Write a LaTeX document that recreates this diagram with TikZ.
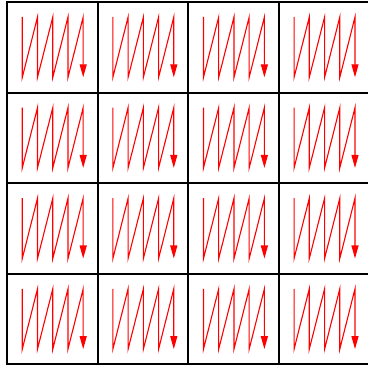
\documentclass[tikz,border=0pt]{standalone}
\usetikzlibrary{arrows.meta}
\begin{document}
\begin{tikzpicture}[x=1pt,y=-1pt,
  gridline/.style={black,line width=2pt,line cap=rect},
  scan/.style={red,line width=1.1pt,-{Triangle[length=13pt,width=7pt]}}]
\useasboundingbox (0,0) rectangle (368,366);
\fill[white] (0,0) rectangle (368,366);
\foreach \i in {0,...,3}{
  \foreach \j in {0,...,3}{
    \coordinate (c\i\j) at ({7+90.6*\i},{2+90.6*\j});
    \begin{scope}[shift={(c\i\j)}]
      \draw[scan] (15.3,15) -- (15.3,75.3) -- (30.5,15) -- (30.5,75.3)
        -- (45.8,15) -- (45.8,75.3) -- (61,15) -- (61,75.3)
        -- (76.2,15) -- (76.2,75.3);
    \end{scope}
  }
}
\foreach \k in {0,...,4}{
  \draw[gridline] ({7+90.6*\k},2) -- ({7+90.6*\k},364.4);
  \draw[gridline] (7,{2+90.6*\k}) -- (369.4,{2+90.6*\k});
}
\end{tikzpicture}
\end{document}
